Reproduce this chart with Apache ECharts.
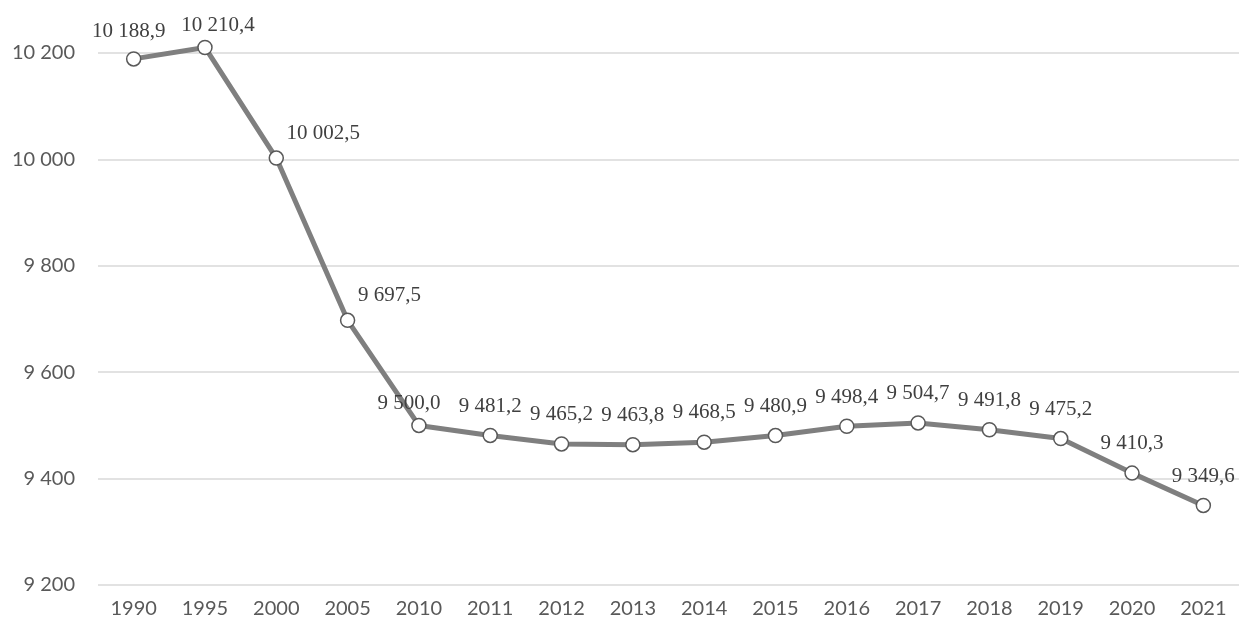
<!DOCTYPE html>
<html>
<head>
<meta charset="utf-8">
<script src="https://cdn.jsdelivr.net/npm/echarts@6/dist/echarts.min.js"></script>
<style>
html,body{margin:0;padding:0;background:#fff;}
#main{width:1240px;height:624px;}
</style>
</head>
<body>
<div id="main"></div>
<script>
// years on the x axis
var years = ['1990','1995','2000','2005','2010','2011','2012','2013','2014','2015','2016','2017','2018','2019','2020','2021'];
// values
var values = [10188.9,10210.4,10002.5,9697.5,9500.0,9481.2,9465.2,9463.8,9468.5,9480.9,9498.4,9504.7,9491.8,9475.2,9410.3,9349.6];

// label nudges (px) where the labels sit off-centre in the picture
var labelNudge = {0:[-5,2],1:[13,7],2:[47,5],3:[42,4],4:[-10,7]};

function fmtThousands(n, dec){
  var s = n.toFixed(dec).split('.');
  var int = s[0].replace(/\B(?=(\d{3})+(?!\d))/g, ' ');
  return s.length > 1 ? int + ',' + s[1] : int;
}

var seriesData = values.map(function(v, i){
  var item = {value: v};
  if (labelNudge[i]) item.label = {offset: labelNudge[i]};
  return item;
});

var chart = echarts.init(document.getElementById('main'));
var option = {
  animation: false,
  grid: {left: 98, right: 1, top: 53, bottom: 39, containLabel: false},
  xAxis: {
    type: 'category',
    data: years,
    boundaryGap: true,
    axisLine: {show: false},
    axisTick: {show: false},
    axisLabel: {color: '#595959', fontFamily: 'Lato', fontSize: 20, margin: 14}
  },
  yAxis: {
    type: 'value',
    min: 9200,
    max: 10200,
    interval: 200,
    axisLine: {show: false},
    axisTick: {show: false},
    axisLabel: {
      color: '#595959', fontFamily: 'Lato', fontSize: 20, margin: 23,
      formatter: function(v){ return fmtThousands(v, 0); }
    },
    splitLine: {lineStyle: {color: '#d9d9d9', width: 1.5}}
  },
  series: [{
    type: 'line',
    data: seriesData,
    clip: false,
    symbol: 'circle',
    symbolSize: 14,
    showSymbol: true,
    lineStyle: {color: '#7f7f7f', width: 5},
    itemStyle: {color: '#ffffff', borderColor: '#595959', borderWidth: 1.5},
    label: {
      show: true,
      position: 'top',
      distance: 11,
      color: '#404040',
      fontFamily: 'Liberation Serif',
      fontSize: 21,
      formatter: function(p){ return fmtThousands(p.value, 1); }
    }
  }]
};
chart.setOption(option);
</script>
</body>
</html>
